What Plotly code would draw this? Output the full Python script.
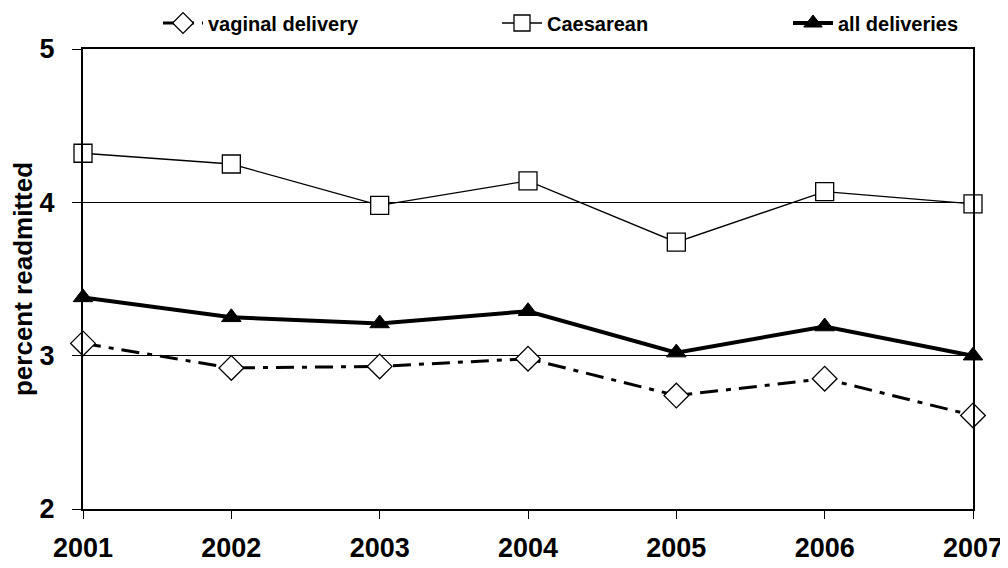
import plotly.graph_objects as go

years = [2001, 2002, 2003, 2004, 2005, 2006, 2007]
vaginal = [3.08, 2.92, 2.93, 2.98, 2.74, 2.85, 2.61]
caesarean = [4.32, 4.25, 3.98, 4.14, 3.74, 4.07, 3.99]
all_deliv = [3.38, 3.25, 3.21, 3.29, 3.02, 3.19, 3.00]
y_ticks = [2, 3, 4, 5]

FONT = "Liberation Sans, Arial, sans-serif"
W, H = 1000, 560  # page body has an 8px margin

fig = go.Figure()
fig.add_trace(go.Scatter(
    x=years, y=vaginal, name="vaginal delivery", mode="lines+markers",
    line=dict(color="black", width=3, dash="18px,8px,5px,8px"),
    marker=dict(symbol="diamond", size=19, color="white", line=dict(color="black", width=1.3)),
    cliponaxis=False, legend="legend"))
fig.add_trace(go.Scatter(
    x=years, y=caesarean, name="Caesarean", mode="lines+markers",
    line=dict(color="black", width=1.3),
    marker=dict(symbol="square", size=18, color="white", line=dict(color="black", width=1.3)),
    cliponaxis=False, legend="legend2"))
fig.add_trace(go.Scatter(
    x=years, y=all_deliv, name="all deliveries", mode="lines+markers",
    line=dict(color="black", width=4),
    marker=dict(symbol="triangle-up", size=17, color="black", line=dict(color="black", width=1)),
    cliponaxis=False, legend="legend3"))

leg_common = dict(orientation="h", yref="container", yanchor="middle", y=1 - 15 / H,
                  xref="container", xanchor="left",
                  font=dict(family=FONT, size=20, color="black", weight="bold"),
                  bgcolor="rgba(0,0,0,0)", itemwidth=40)
fig.update_layout(
    width=W, height=H,
    showlegend=True,
    margin=dict(l=75, r=35, t=41, b=59, autoexpand=False),
    paper_bgcolor="white", plot_bgcolor="white",
    font=dict(family=FONT, color="black"),
    legend=dict(x=150 / W, **leg_common),
    legend2=dict(x=489 / W, **leg_common),
    legend3=dict(x=780 / W, **leg_common),
    xaxis=dict(range=[2001, 2007], tickvals=years, ticktext=[str(y) for y in years],
               showgrid=False, zeroline=False, showline=True, linecolor="black", linewidth=2,
               mirror=True, ticks="outside", ticklen=8, tickcolor="black", tickwidth=1,
               tickfont=dict(size=27, family=FONT, weight="bold"),
               ticklabelstandoff=6, ticklabeloverflow="allow", automargin=False),
    yaxis=dict(range=[2, 5], tickvals=y_ticks, showgrid=True, gridcolor="black", gridwidth=1,
               zeroline=False, showline=True, linecolor="black", linewidth=2, mirror=True,
               ticks="outside", ticklen=9, tickcolor="black", tickwidth=1,
               tickfont=dict(size=27, family=FONT, weight="bold"), ticklabelstandoff=12,
               automargin=False,
               title=dict(text="percent readmitted", font=dict(size=26, family=FONT, weight="bold"),
                          standoff=7)),
)
fig.write_html("out.html")
